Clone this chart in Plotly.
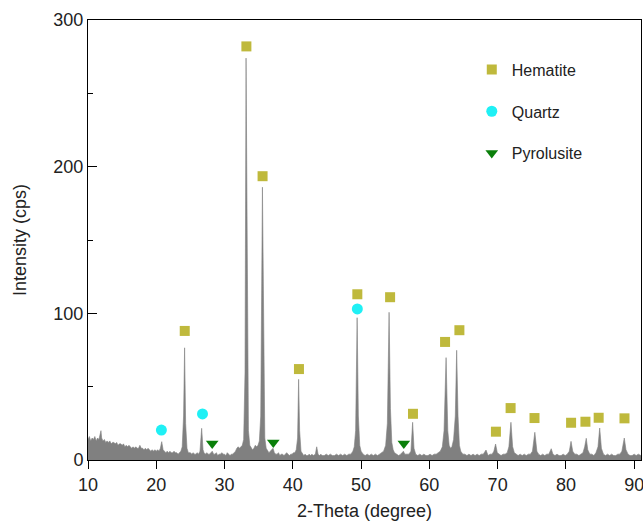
import plotly.graph_objects as go

# XRD profile (2-Theta in degrees, intensity in cps)
two_theta = [
    10.0, 10.2, 10.4, 10.6, 10.8, 11.0, 11.2, 11.4, 11.6, 11.8, 11.9, 12.0, 12.2, 12.4, 12.6, 12.8,
    13.0, 13.2, 13.4, 13.6, 13.8, 14.0, 14.2, 14.4, 14.6, 14.8, 15.0, 15.2, 15.4, 15.6, 15.8,
    16.0, 16.2, 16.4, 16.6, 16.8, 17.0, 17.2, 17.4, 17.6, 17.8, 18.0, 18.2, 18.4, 18.6, 18.8,
    19.0, 19.2, 19.4, 19.6, 19.8, 20.0, 20.2, 20.4, 20.6, 20.8, 21.0, 21.2, 21.4, 21.6, 21.8,
    22.0, 22.2, 22.4, 22.6, 22.8, 23.0, 23.2, 23.4, 23.6, 23.8, 24.0, 24.15, 24.3, 24.5, 24.7,
    25.0, 25.2, 25.4, 25.6, 25.8, 26.0, 26.2, 26.4, 26.65, 26.85, 27.0, 27.2, 27.4, 27.6, 27.8,
    28.0, 28.2, 28.4, 28.6, 28.8, 29.0, 29.2, 29.4, 29.6, 29.8, 30.0, 30.2, 30.4, 30.6, 30.8,
    31.0, 31.2, 31.4, 31.6, 31.8, 32.0, 32.2, 32.4, 32.6, 32.8, 33.0, 33.15, 33.3, 33.5, 33.7,
    33.9, 34.1, 34.3, 34.5, 34.7, 34.9, 35.1, 35.3, 35.55, 35.75, 35.9, 36.1, 36.3, 36.5, 36.7,
    36.9, 37.1, 37.3, 37.5, 37.7, 37.9, 38.1, 38.3, 38.5, 38.7, 38.9, 39.1, 39.3, 39.5, 39.7,
    39.9, 40.1, 40.3, 40.5, 40.7, 40.85, 41.0, 41.2, 41.4, 41.6, 41.8, 42.0, 42.2, 42.4, 42.6,
    42.8, 43.0, 43.3, 43.5, 43.7, 43.9, 44.1, 44.3, 44.6, 44.9, 45.2, 45.5, 45.8, 46.1, 46.4,
    46.7, 47.0, 47.3, 47.6, 47.9, 48.2, 48.5, 48.8, 49.0, 49.2, 49.42, 49.6, 49.8, 50.0, 50.3,
    50.6, 50.9, 51.2, 51.5, 51.8, 52.1, 52.4, 52.7, 53.0, 53.3, 53.6, 53.85, 54.1, 54.3, 54.5,
    54.7, 54.9, 55.2, 55.5, 55.8, 56.0, 56.2, 56.4, 56.7, 57.0, 57.3, 57.55, 57.75, 58.0, 58.3,
    58.6, 58.9, 59.2, 59.5, 59.8, 60.1, 60.4, 60.7, 61.0, 61.3, 61.6, 61.9, 62.15, 62.45, 62.7,
    62.9, 63.1, 63.3, 63.55, 63.8, 64.0, 64.2, 64.4, 64.6, 64.9, 65.2, 65.5, 65.8, 66.1, 66.4,
    66.7, 67.0, 67.3, 67.6, 67.9, 68.3, 68.6, 68.9, 69.2, 69.45, 69.7, 69.95, 70.2, 70.5, 70.8,
    71.1, 71.4, 71.65, 71.95, 72.2, 72.45, 72.7, 73.0, 73.3, 73.6, 73.9, 74.2, 74.5, 74.8, 75.1,
    75.45, 75.75, 76.0, 76.3, 76.6, 76.9, 77.2, 77.5, 77.85, 78.1, 78.4, 78.7, 79.0, 79.3, 79.6,
    79.9, 80.2, 80.5, 80.75, 81.0, 81.3, 81.6, 81.9, 82.2, 82.5, 82.75, 82.98, 83.2, 83.5, 83.8,
    84.1, 84.4, 84.7, 84.95, 85.2, 85.5, 85.8, 86.1, 86.4, 86.7, 87.0, 87.3, 87.6, 87.9, 88.2,
    88.55, 88.8, 89.1, 89.4, 89.7, 90.0, 90.3, 90.6, 91.0,
]
intensity = [
    14, 16, 13, 15, 14, 16, 13, 15, 14, 17, 20, 15, 13, 14, 12, 13,
    12, 13, 11, 12, 12, 11, 12, 10, 11, 11, 10, 11, 9, 10, 9,
    10, 9, 8, 9, 8, 9, 8, 8, 10, 8, 8, 7, 8, 7, 8,
    7, 6, 7, 6, 7, 6, 7, 6, 8, 12.5, 7, 6, 5, 6, 5,
    6, 5, 5, 6, 5, 5, 4, 5, 6, 9, 30, 76.5, 25, 8, 5,
    5, 4, 5, 4, 4, 5, 4, 6, 21.6, 7, 5, 4, 5, 4, 4,
    5, 6, 4, 4, 5, 3, 4, 4, 5, 4, 4, 3, 5, 4, 3,
    4, 4, 5, 6, 8, 9, 8, 9, 10, 14, 60, 274, 120, 20, 10,
    8, 7, 8, 10, 9, 10, 13, 30, 186, 60, 15, 8, 6, 5, 6,
    7, 8, 5, 4, 4, 5, 3, 4, 4, 3, 4, 5, 4, 3, 4,
    4, 5, 5, 7, 15, 55, 20, 6, 4, 3, 4, 3, 3, 4, 3,
    4, 3, 4, 9, 4, 3, 4, 3, 3, 4, 3, 4, 3, 3, 4,
    3, 4, 3, 4, 3, 4, 4, 6, 9, 20, 97, 30, 10, 6, 4,
    3, 4, 3, 4, 3, 4, 3, 4, 5, 6, 10, 25, 100.7, 35, 12,
    7, 5, 4, 3, 4, 5, 6, 4, 4, 4, 6, 25.7, 8, 4, 3,
    4, 3, 4, 3, 3, 4, 3, 4, 4, 5, 6, 9, 20, 69.8, 20,
    10, 8, 9, 14, 30, 74.8, 30, 10, 6, 4, 4, 3, 4, 3, 4,
    3, 4, 3, 4, 4, 6.8, 3, 4, 4, 6, 10.9, 5, 4, 3, 4,
    4, 5, 9, 25.7, 9, 5, 4, 3, 4, 3, 4, 3, 4, 4, 6,
    18.9, 6, 4, 3, 4, 3, 4, 4, 7.7, 4, 3, 4, 3, 3, 4,
    3, 4, 6, 12.7, 6, 4, 4, 3, 4, 5, 9, 14.8, 7, 4, 4,
    3, 5, 9, 21.8, 8, 4, 3, 4, 3, 4, 3, 3, 4, 4, 6,
    15, 7, 4, 3, 3, 4, 3, 4, 3,
]

# Phase markers
hematite_x = [24.17, 33.2, 35.57, 40.9, 49.45, 54.25, 57.6, 62.3, 64.4, 69.75, 71.9, 75.4, 80.76, 82.86, 84.8, 88.58]
hematite_y = [88, 282, 193.5, 62, 113, 111, 31.5, 80.5, 88.5, 19.3, 35.4, 28.6, 25.4, 26.1, 28.8, 28.4]
quartz_x = [20.75, 26.77, 49.45]
quartz_y = [20.4, 31.4, 103]
pyrolusite_x = [28.19, 37.14, 56.26]
pyrolusite_y = [11.3, 12, 11.3]

FONT = "Arial, 'Liberation Sans', sans-serif"
TXT = "#222222"

fig = go.Figure()
fig.add_trace(go.Scatter(
    x=two_theta, y=intensity, mode="lines", fill="tozeroy",
    line=dict(color="#7f7f7f", width=0.6), fillcolor="#808080",
    showlegend=False, hoverinfo="skip",
))
fig.add_trace(go.Scatter(
    x=hematite_x, y=hematite_y, mode="markers", name="Hematite", legendgroup="h",
    marker=dict(symbol="square", size=10, color="#bfb93c", line=dict(width=0)),
))
fig.add_trace(go.Scatter(
    x=quartz_x, y=quartz_y, mode="markers", name="Quartz", legendgroup="q",
    marker=dict(symbol="circle", size=11, color="#1ff0f5", line=dict(width=0)),
))
fig.add_trace(go.Scatter(
    x=pyrolusite_x, y=pyrolusite_y, mode="markers", name="Pyrolusite", legendgroup="p",
    marker=dict(symbol="triangle-down", size=11, color="#0a7f0a", line=dict(width=0)),
))

fig.update_layout(
    width=643, height=521,
    margin=dict(l=88, r=2, t=20, b=61, autoexpand=False),
    paper_bgcolor="white", plot_bgcolor="white",
    font=dict(family=FONT, size=18, color=TXT),
    showlegend=True,
    legend=dict(
        x=0.694, y=0.926, xanchor="left", yanchor="top",
        traceorder="grouped", tracegroupgap=18,
        font=dict(size=16, family=FONT, color=TXT),
        bgcolor="rgba(0,0,0,0)", itemsizing="trace",
    ),
    xaxis=dict(
        range=[10, 91], dtick=10, tick0=10, automargin=False,
        showline=True, linecolor="black", linewidth=1, mirror=True,
        ticks="outside", ticklen=8, tickcolor="black", tickwidth=1,
        showgrid=False, zeroline=False, ticklabeloverflow="allow",
        title=dict(text="2-Theta (degree)", font=dict(size=18, family=FONT, color=TXT), standoff=12),
        tickfont=dict(size=18, family=FONT, color=TXT),
    ),
    yaxis=dict(
        range=[0, 300], dtick=100, tick0=0, automargin=False,
        showline=True, linecolor="black", linewidth=1, mirror=True,
        ticks="inside", ticklen=9, tickcolor="black", tickwidth=1,
        minor=dict(dtick=50, ticks="inside", ticklen=5, tickcolor="black"),
        showgrid=False, zeroline=False,
        title=dict(text="Intensity (cps)", font=dict(size=18, family=FONT, color=TXT), standoff=22),
        tickfont=dict(size=18, family=FONT, color=TXT),
    ),
)

# remove the page's default body margin and scrollbars so the 643x521 figure fills the window
page_fix = (
    "document.documentElement.style.overflow='hidden';"
    "document.body.style.margin='0';"
    "document.body.style.overflow='hidden';"
)
fig.write_html("out.html", post_script=page_fix, config={"displayModeBar": False})
